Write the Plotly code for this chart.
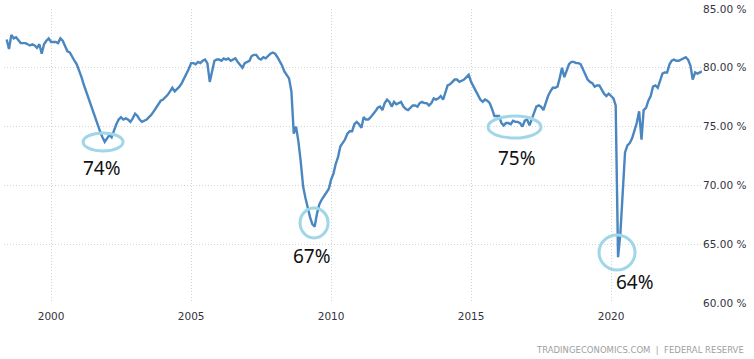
import plotly.graph_objects as go

# Monthly capacity utilization (%), June 1998 - April 2023
start_year = 1998
start_month = 6
values_by_year = {
    1998: [82.4, 81.6, 82.8, 82.5, 82.6, 82.3, 82.1],
    1999: [82.1, 82.1, 82.0, 81.9, 82.0, 81.9, 81.7, 82.0, 81.2, 82.0, 82.3, 82.5],
    2000: [82.2, 82.2, 82.2, 82.1, 82.5, 82.3, 81.9, 81.4, 81.3, 80.9, 80.6, 80.3],
    2001: [79.8, 79.2, 78.6, 78.0, 77.4, 76.8, 76.3, 75.8, 75.1, 74.6, 74.1, 73.7],
    2002: [74.0, 74.3, 74.1, 74.7, 75.2, 75.6, 75.8, 75.6, 75.7, 75.6, 75.4, 75.7],
    2003: [76.1, 75.9, 75.6, 75.4, 75.5, 75.6, 75.8, 76.0, 76.3, 76.6, 77.0, 77.2],
    2004: [77.3, 77.5, 77.7, 78.0, 78.3, 78.0, 78.2, 78.4, 78.7, 79.1, 79.4, 79.9],
    2005: [80.4, 80.4, 80.3, 80.5, 80.4, 80.6, 80.7, 80.4, 78.8, 79.8, 80.6, 80.7],
    2006: [80.7, 80.6, 80.8, 80.7, 80.8, 80.6, 80.7, 80.8, 80.5, 80.2, 80.0, 80.4],
    2007: [80.5, 80.6, 81.0, 81.1, 81.1, 80.8, 80.7, 80.9, 80.8, 81.0, 81.2, 81.3],
    2008: [81.2, 80.9, 80.6, 80.2, 79.7, 79.4, 79.1, 78.0, 74.4, 75.0, 73.7, 72.0],
    2009: [69.9, 68.9, 68.1, 67.3, 66.7, 66.5, 67.6, 68.4, 68.8, 69.1, 69.4, 69.7],
    2010: [70.5, 71.0, 71.8, 72.4, 73.3, 73.6, 73.9, 74.4, 74.6, 74.6, 75.2, 75.4],
    2011: [75.2, 74.9, 75.8, 75.6, 75.6, 75.8, 76.1, 76.3, 76.6, 76.7, 76.4, 77.0],
    2012: [77.3, 77.1, 76.7, 77.1, 76.9, 77.0, 77.1, 76.7, 76.5, 76.4, 76.6, 76.8],
    2013: [76.8, 76.7, 77.0, 77.1, 77.0, 77.0, 76.8, 77.0, 77.4, 77.3, 77.4, 77.6],
    2014: [77.3, 78.0, 78.5, 78.6, 78.8, 79.0, 79.0, 78.8, 78.9, 79.0, 79.2, 79.4],
    2015: [78.8, 78.4, 78.0, 77.6, 77.3, 77.1, 77.3, 77.2, 77.0, 76.5, 75.9, 75.9],
    2016: [75.9, 75.3, 75.1, 75.3, 75.3, 75.2, 75.5, 75.4, 75.4, 75.3, 75.0, 75.5],
    2017: [75.6, 75.1, 75.6, 76.2, 76.7, 76.8, 76.7, 76.4, 77.0, 77.6, 78.0, 78.3],
    2018: [78.3, 78.4, 79.1, 80.0, 79.2, 79.8, 80.3, 80.5, 80.5, 80.4, 80.4, 80.3],
    2019: [79.9, 79.4, 79.0, 78.8, 78.7, 78.4, 78.5, 78.5, 78.1, 77.8, 77.6, 77.8],
    2020: [77.6, 77.4, 76.8, 63.9, 65.9, 69.8, 72.8, 73.4, 73.6, 74.0, 74.6, 75.3],
    2021: [76.3, 73.9, 76.4, 76.6, 77.2, 77.6, 78.4, 78.5, 78.3, 79.0, 79.5, 79.6],
    2022: [79.6, 80.3, 80.6, 80.7, 80.6, 80.6, 80.7, 80.8, 80.9, 80.7, 80.2, 79.0],
    2023: [79.6, 79.5, 79.6, 79.7],
}

dates = []
values = []
for yr, vals in values_by_year.items():
    m0 = start_month if yr == start_year else 1
    for i, v in enumerate(vals):
        dates.append(f"{yr}-{m0 + i:02d}-01")
        values.append(v)

y_ticks = [60, 65, 70, 75, 80, 85]
y_tick_labels = ["60.00 %", "65.00 %", "70.00 %", "75.00 %", "80.00 %", "85.00 %"]
x_ticks = ["2000-01-01", "2005-01-01", "2010-01-01", "2015-01-01", "2020-01-01"]
x_tick_labels = ["2000", "2005", "2010", "2015", "2020"]

# Highlighted troughs: label, ellipse bounds (x0, x1, y0, y1), label position
troughs = [
    ("74%", "2001-02-22", "2002-07-28", 72.93, 74.46, "2001-10-26", 71.48),
    ("67%", "2008-11-22", "2009-11-22", 65.53, 68.08, "2009-04-27", 64.0),
    ("75%", "2015-08-10", "2017-07-01", 74.03, 75.90, "2016-08-22", 72.33),
    ("64%", "2019-07-28", "2020-11-08", 62.81, 65.78, "2020-11-08", 61.79),
]

fig = go.Figure()
fig.add_trace(go.Scatter(
    x=dates, y=values, mode="lines",
    line=dict(color="#4a86c0", width=2.4),
    hoverinfo="skip", showlegend=False,
))

for label, x0, x1, y0, y1, tx, ty in troughs:
    fig.add_shape(type="circle", xref="x", yref="y", x0=x0, x1=x1, y0=y0, y1=y1,
                  line=dict(color="#9fd7e8", width=3), fillcolor="rgba(0,0,0,0)")
    fig.add_annotation(x=tx, y=ty, xref="x", yref="y", text=label, showarrow=False,
                       font=dict(family="Noto Sans", size=19, color="#111111"))

fig.add_annotation(x=1.0630, y=-0.16, xref="paper", yref="paper", xanchor="right", yanchor="middle",
                   text="TRADINGECONOMICS.COM  |  FEDERAL RESERVE",
                   showarrow=False, font=dict(family="DejaVu Sans", size=8.5, color="#a0a0a0"))

grid = dict(showgrid=True, gridcolor="#d4d4d4", griddash="1px,2px", gridwidth=1,
            zeroline=False, showline=False, ticks="", automargin=False)
fig.update_xaxes(type="date", range=["1998-04-27", "2023-04-01"],
                 tickvals=x_ticks, ticktext=x_tick_labels, ticklabelstandoff=5,
                 tickfont=dict(family="DejaVu Sans", size=10.5, color="#333340"), **grid)
fig.update_yaxes(range=[60, 85], side="right", tickvals=y_ticks, ticktext=y_tick_labels,
                 tickfont=dict(family="DejaVu Sans", size=10.5, color="#333340"), **grid)

fig.update_layout(
    width=754, height=359,
    margin=dict(l=4, r=52, t=9, b=56, autoexpand=False),
    paper_bgcolor="white", plot_bgcolor="white",
    showlegend=False,
)
fig.write_html("out.html", config={"displayModeBar": False},
               post_script="document.body.style.margin='0';")
